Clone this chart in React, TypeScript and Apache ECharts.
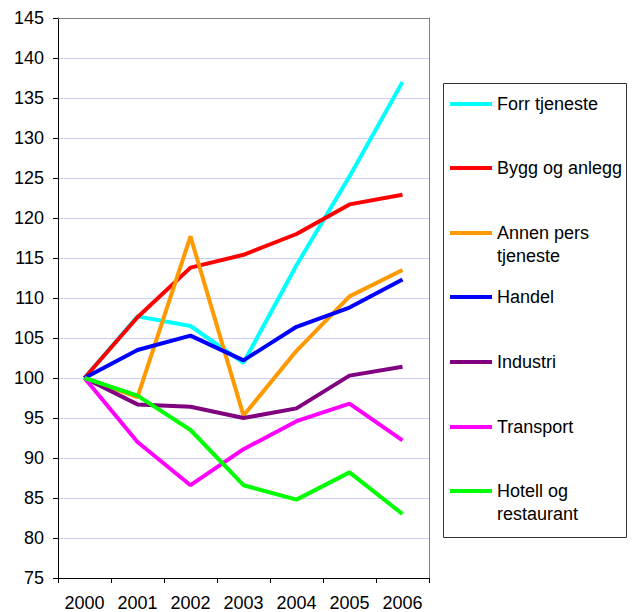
import React, { useEffect, useRef } from "react";
import * as echarts from "echarts";

const years = ["2000", "2001", "2002", "2003", "2004", "2005", "2006"];

const forrTjeneste = [100, 107.7, 106.5, 101.9, 114.1, 125.2, 137.0];
const byggOgAnlegg = [100, 107.6, 113.8, 115.4, 118.0, 121.7, 122.9];
const annenPersTjeneste = [100, 97.6, 117.7, 95.3, 103.4, 110.2, 113.5];
const handel = [100, 103.5, 105.3, 102.2, 106.4, 108.8, 112.3];
const industri = [100, 96.7, 96.4, 95.0, 96.2, 100.3, 101.4];
const transport = [100, 92.0, 86.6, 91.1, 94.6, 96.8, 92.2];
const hotellOgRestaurant = [100, 97.8, 93.5, 86.6, 84.8, 88.2, 83.0];

const seriesNames = [
  "Forr tjeneste",
  "Bygg og anlegg",
  "Annen pers tjeneste",
  "Handel",
  "Industri",
  "Transport",
  "Hotell og restaurant",
];
const legendLabels = [
  "Forr tjeneste",
  "Bygg og anlegg",
  "\nAnnen pers\ntjeneste",
  "Handel",
  "Industri",
  "Transport",
  "\nHotell og\nrestaurant",
];
const seriesData = [
  forrTjeneste,
  byggOgAnlegg,
  annenPersTjeneste,
  handel,
  industri,
  transport,
  hotellOgRestaurant,
];
const colors = ["#00FFFF", "#FF0000", "#FF9900", "#0000FF", "#800080", "#FF00FF", "#00FF00"];

const legendCenters = [104, 168, 233, 297, 362, 427, 491];

const FONT = "'Liberation Sans', Arial, sans-serif";

export default function App() {
  const ref = useRef<HTMLDivElement>(null);
  useEffect(() => {
    if (!ref.current) return;
    const chart = echarts.init(ref.current, undefined, { renderer: "svg" });
    const legends = seriesNames.map((name, i) => {
      const multi = legendLabels[i].includes("\n");
      return {
        orient: "vertical",
        left: 450,
        top: multi ? legendCenters[i] - 34.5 : legendCenters[i] - 11.5,
        padding: 0,
        icon: "rect",
        itemWidth: 42,
        itemHeight: 4,
        selectedMode: false,
        data: [name],
        formatter: () => legendLabels[i],
        textStyle: {
          fontFamily: FONT,
          fontSize: 18,
          lineHeight: 23,
          color: "#000",
        },
      };
    });
    chart.setOption({
      animation: false,
      backgroundColor: "#fff",
      textStyle: { fontFamily: FONT },
      grid: { left: 58, top: 18, right: 209, bottom: 34, containLabel: false },
      legend: legends,
      graphic: [
        {
          type: "rect",
          shape: { x: 443.5, y: 83.5, width: 183, height: 454 },
          style: { fill: "none", stroke: "#333", lineWidth: 1 },
          silent: true,
        },
      ],
      xAxis: [
        {
          type: "category",
          data: years,
          boundaryGap: true,
          axisLine: { lineStyle: { color: "#000", width: 1 } },
          axisTick: { show: true, length: 5, lineStyle: { color: "#000" } },
          axisLabel: { color: "#000", fontSize: 18, fontFamily: FONT, margin: 16 },
          splitLine: { show: false },
        },
        {
          type: "category",
          data: years,
          position: "top",
          axisLine: { lineStyle: { color: "#808080", width: 1 } },
          axisTick: { show: false },
          axisLabel: { show: false },
          splitLine: { show: false },
        },
      ],
      yAxis: [
        {
          type: "value",
          min: 75,
          max: 145,
          interval: 5,
          axisLine: { show: true, lineStyle: { color: "#000", width: 1 } },
          axisTick: { show: true, length: 5, lineStyle: { color: "#000" } },
          axisLabel: { color: "#000", fontSize: 18, fontFamily: FONT, margin: 14 },
          splitLine: { show: true, lineStyle: { color: "#ccccf5", width: 1 } },
        },
        {
          type: "value",
          min: 75,
          max: 145,
          interval: 5,
          position: "right",
          axisLine: { show: true, lineStyle: { color: "#808080", width: 1 } },
          axisTick: { show: false },
          axisLabel: { show: false },
          splitLine: { show: false },
        },
      ],
      series: seriesNames.map((name, i) => ({
        name,
        type: "line",
        data: seriesData[i],
        showSymbol: false,
        symbol: "none",
        color: colors[i],
        lineStyle: { color: colors[i], width: 4 },
        z: 3 + i,
      })),
    });
    return () => chart.dispose();
  }, []);
  return (
    <div
      ref={ref}
      style={{ position: "fixed", left: 0, top: 0, width: 638, height: 612 }}
    />
  );
}
